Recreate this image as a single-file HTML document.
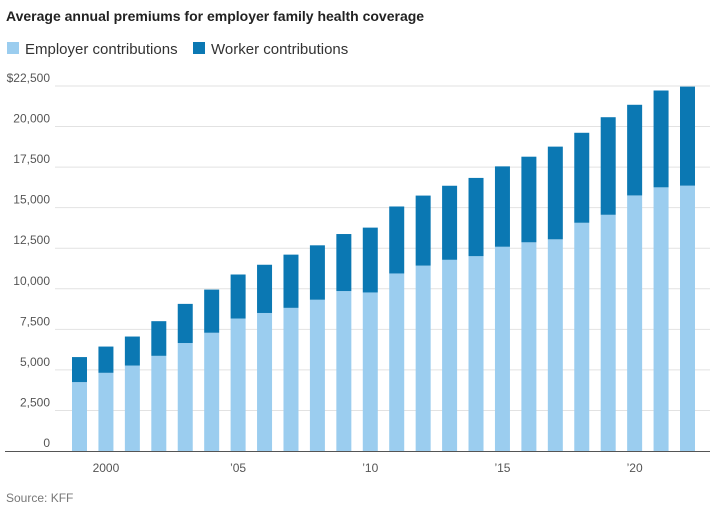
<!DOCTYPE html>
<html><head><meta charset="utf-8"><style>
body{margin:0;background:#fff;font-family:"Liberation Sans",sans-serif;}
svg text{font-family:"Liberation Sans",sans-serif;}
</style></head><body>
<svg width="715" height="515" id="c">
<text x="6" y="21" font-size="14" font-weight="bold" fill="#222">Average annual premiums for employer family health coverage</text>
<g>
<rect x="7" y="42" width="12" height="12" fill="#9bcdef"/>
<text x="25" y="54" font-size="15" fill="#333">Employer contributions</text>
<rect x="193" y="42" width="12" height="12" fill="#0b78b3"/>
<text x="211" y="54" font-size="15" fill="#333">Worker contributions</text>
</g>
<g id="grid"></g><g id="bars"></g><g id="xl"></g>
<text x="6" y="502" font-size="12" fill="#777">Source: KFF</text>
</svg>
<script>
const years=[1999,2000,2001,2002,2003,2004,2005,2006,2007,2008,2009,2010,2011,2012,2013,2014,2015,2016,2017,2018,2019,2020,2021,2022];
const employer=[4247,4819,5269,5866,6657,7289,8167,8508,8824,9325,9860,9773,10944,11429,11786,12011,12591,12865,13049,14069,14561,15754,16253,16357];
const worker=[1543,1619,1787,2137,2412,2661,2713,2973,3281,3354,3515,3997,4129,4316,4565,4823,4955,5277,5714,5547,6015,5588,5969,6106];
const yTicks=[0,2500,5000,7500,10000,12500,15000,17500,20000,22500];
const yTickLabels=["0","2,500","5,000","7,500","10,000","12,500","15,000","17,500","20,000","$22,500"];
const xTickYears=[2000,2005,2010,2015,2020];
const xTickLabels=["2000","\u201905","\u201910","\u201915","\u201920"];
const NS="http://www.w3.org/2000/svg";
const y=v=>451-v*(451-86)/22500;
const x=yr=>79.5+(yr-1999)*(687.5-79.5)/23;
function mk(t,a,p){const e=document.createElementNS(NS,t);for(const k in a)e.setAttribute(k,a[k]);p.appendChild(e);return e;}
const g=document.getElementById('grid');
yTicks.forEach((v,i)=>{
 if(v>0){const l=mk('line',{x1:55,x2:710,y1:y(v),y2:y(v),stroke:'#e2e2e2','stroke-width':1},g);
 
 }
 const t=mk('text',{x:50,y:y(v)-4,'font-size':12,fill:'#555','text-anchor':'end'},g);
 t.textContent=yTickLabels[i];
 
 
});
const b=document.getElementById('bars');
years.forEach((yr,i)=>{
 const r1=mk('rect',{x:x(yr)-7.5,width:15,y:y(employer[i]),height:451-y(employer[i]),fill:'#9bcdef'},b);
 
 
 const tot=employer[i]+worker[i];
 const r2=mk('rect',{x:x(yr)-7.5,width:15,y:y(tot),height:y(employer[i])-y(tot),fill:'#0b78b3'},b);
 
 
});
const ax=mk('line',{x1:5,x2:710,y1:451.5,y2:451.5,stroke:'#555','stroke-width':1},b);


const xl=document.getElementById('xl');
xTickYears.forEach((yr,i)=>{
 const t=mk('text',{x:x(yr),y:472,'font-size':12,fill:'#555','text-anchor':'middle'},xl);
 t.textContent=xTickLabels[i];
 
 
});
</script>
</body></html>
